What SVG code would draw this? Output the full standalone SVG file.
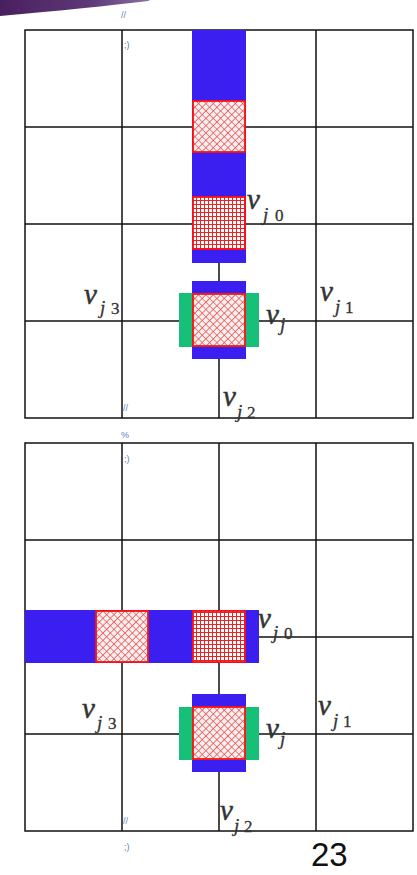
<svg xmlns="http://www.w3.org/2000/svg" width="417" height="875" viewBox="0 0 417 875">
<defs>
<linearGradient id="purp" x1="0" y1="0" x2="1" y2="0">
<stop offset="0" stop-color="#4a1f5f"/>
<stop offset="0.6" stop-color="#5e3878"/>
<stop offset="1" stop-color="#8a70a0"/>
</linearGradient>
<pattern id="xhatch" width="5.2" height="5.2" patternUnits="userSpaceOnUse" patternTransform="rotate(45)">
<rect width="5.2" height="5.2" fill="#f6f0f0"/>
<path d="M0 0H5.2M0 0V5.2" stroke="#f04848" stroke-width="1.5"/>
</pattern>
<pattern id="grid" width="4" height="4" patternUnits="userSpaceOnUse">
<rect width="4" height="4" fill="#ffffff"/>
<path d="M0 0.5H4M0.5 0V4" stroke="#ee2020" stroke-width="1"/>
</pattern>
<style>
.gl{stroke:#111;stroke-width:1.5;fill:none}
.blue{fill:#3b1ff0}
.green{fill:#17c078}
.xh{fill:url(#xhatch);stroke:#ff1010;stroke-width:1.8}
.gr{fill:url(#grid);stroke:#ff1010;stroke-width:1.8}
.lbl{font-family:"Liberation Serif",serif;font-style:italic;font-size:29px;fill:#333;stroke:#333;stroke-width:0.5}
.sub{font-family:"Liberation Serif",serif;font-style:italic;font-size:19px;fill:#333;stroke:#333;stroke-width:0.3}
.num{font-family:"Liberation Serif",serif;font-size:17px;fill:#333;stroke:#333;stroke-width:0.3}
.mark{font-family:"Liberation Sans",sans-serif;font-size:9px;fill:#5a7fc8}
.pg{font-family:"Liberation Sans",Arial,sans-serif;font-size:33px;fill:#111}
</style>
</defs>

<path d="M0 0H150L148 1Q90 8 0 16Z" fill="url(#purp)"/>

<g id="grid-top">
<rect x="25" y="30" width="388" height="388" class="gl"/>
<path d="M122 30V418M219 30V418M316 30V418M25 127H413M25 224H413M25 321H413" class="gl"/>
</g>

<g id="grid-bottom">
<rect x="25" y="443" width="388" height="388" class="gl"/>
<path d="M122 443V831M219 443V831M316 443V831M25 540H413M25 637H413M25 734H413" class="gl"/>
</g>

<g id="top-bar">
<rect x="192" y="30" width="54" height="233" class="blue"/>
<rect x="193" y="101" width="52" height="51" class="xh"/>
<rect x="193" y="197" width="52" height="52" class="gr"/>
</g>

<g id="top-vj">
<rect x="192" y="281" width="54" height="78" class="blue"/>
<rect x="179" y="293" width="80" height="54" class="green"/>
<rect x="193" y="294" width="52" height="52" class="xh"/>
</g>

<g id="bottom-bar">
<rect x="25" y="610" width="234" height="53" class="blue"/>
<rect x="96" y="611" width="52" height="51" class="xh"/>
<rect x="193" y="611" width="52" height="51" class="gr"/>
</g>

<g id="bottom-vj">
<rect x="192" y="694" width="54" height="78" class="blue"/>
<rect x="179" y="707" width="80" height="53" class="green"/>
<rect x="193" y="707" width="52" height="52" class="xh"/>
</g>

<g id="labels-top">
<text x="247" y="209" class="lbl">v</text><text x="263" y="221" class="sub">j</text><text x="275" y="221" class="num">0</text>
<text x="84" y="304" class="lbl">v</text><text x="100" y="314" class="sub">j</text><text x="111" y="314" class="num">3</text>
<text x="320" y="301" class="lbl">v</text><text x="335" y="313" class="sub">j</text><text x="345" y="313" class="num">1</text>
<text x="266" y="324" class="lbl">v</text><text x="280" y="331" class="sub">j</text>
<text x="223" y="406" class="lbl">v</text><text x="237" y="418" class="sub">j</text><text x="247" y="418" class="num">2</text>
</g>

<g id="labels-bottom">
<text x="258" y="628" class="lbl">v</text><text x="273" y="639" class="sub">j</text><text x="284" y="639" class="num">0</text>
<text x="82" y="718" class="lbl">v</text><text x="97" y="729" class="sub">j</text><text x="108" y="729" class="num">3</text>
<text x="318" y="715" class="lbl">v</text><text x="333" y="727" class="sub">j</text><text x="343" y="727" class="num">1</text>
<text x="266" y="738" class="lbl">v</text><text x="280" y="745" class="sub">j</text>
<text x="220" y="820" class="lbl">v</text><text x="234" y="832" class="sub">j</text><text x="244" y="832" class="num">2</text>
</g>

<g id="marks">
<text x="121" y="18" class="mark">//</text>
<text x="124" y="48" class="mark">;)</text>
<text x="123" y="411" class="mark">//</text>
<text x="121" y="438" class="mark">%</text>
<text x="124" y="462" class="mark">;)</text>
<text x="123" y="824" class="mark">//</text>
<text x="124" y="850" class="mark">;)</text>
</g>

<text x="311" y="866" class="pg">23</text>
</svg>
